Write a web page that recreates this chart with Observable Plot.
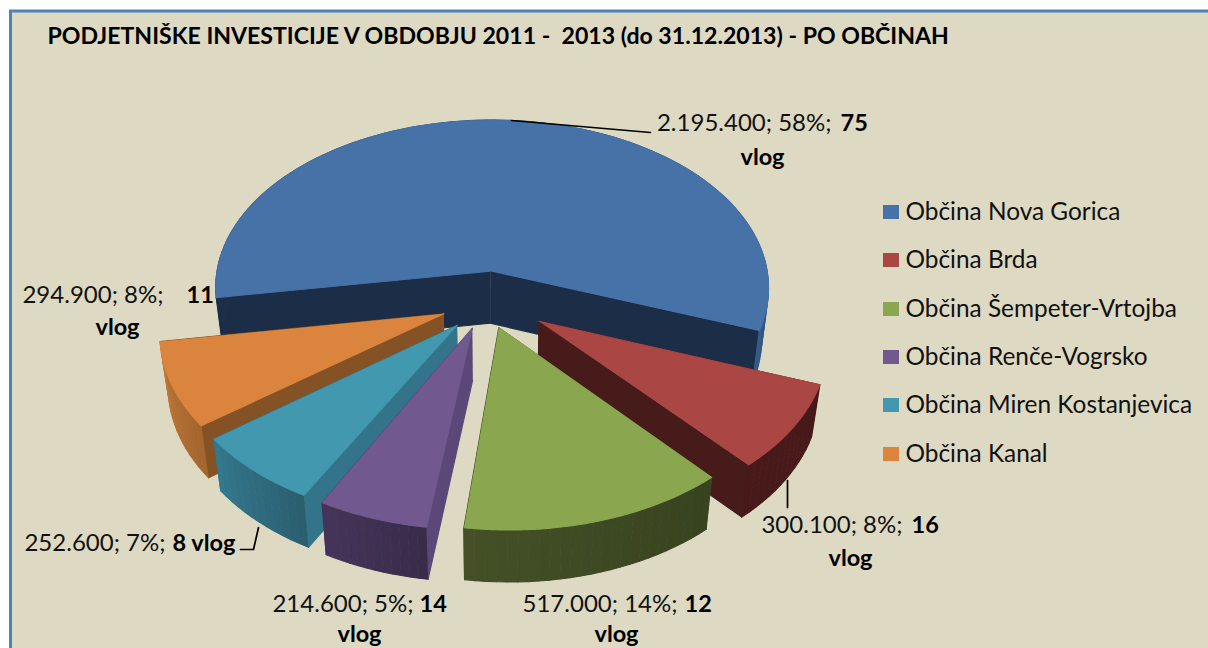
<!DOCTYPE html>
<html><head><meta charset="utf-8">
<script src="https://cdn.jsdelivr.net/npm/d3@7"></script>
<script src="https://cdn.jsdelivr.net/npm/@observablehq/plot@0.6"></script>
<style>html,body{margin:0;padding:0;background:#fff;overflow:hidden}svg{display:block}</style>
</head><body><div id="c"></div>
<script>
// DATA
const titleText = "PODJETNIŠKE INVESTICIJE V OBDOBJU 2011 -  2013 (do 31.12.2013) - PO OBČINAH";
const names = ["Občina Nova Gorica","Občina Brda","Občina Šempeter-Vrtojba","Občina Renče-Vogrsko","Občina Miren Kostanjevica","Občina Kanal"];
const amounts = [2195400,300100,517000,214600,252600,294900];
const amountLabels = ["2.195.400","300.100","517.000","214.600","252.600","294.900"];
const percents = [58,8,14,5,7,8];
const counts = [75,16,12,14,8,11];
// STYLE + LAYOUT
const W=1208,H=648, FONT="Lato, 'Open Sans', sans-serif";
const topColors=["#4672A8","#AA4644","#8AA64F","#71588F","#4198AF","#DB843D"];
const wallColors=["#1C2E47","#461B1A","#3C4A20","#5B4878","#33748A","#855225"];
const arcFrom=["#1C2E47","#471A19","#38431F","#392C4A","#2B5F70","#A4652E"];
const arcTo=["#34598A","#471A19","#445127","#46355A","#347A90","#C27A37"];
const drawOrder=[0,5,4,3,1,2];
const explode=[.18,.2,.18,.18,.18,.18];
const sliceShiftX=[-.012,.02,.01,0,0,0];
const apexShift=[[-2,0],[-4,0],[-9,-4],[-2,-3],[0,0],[0,0]];
const startDeg=-99, cx=490, cy=301, Rx=280, Ry=172, persp=.1, depth=52, shrink=.975;
const labelRows=[
 {i:0,x:831,bx:840,y:123,vx:762,vy:157},
 {i:1,x:902,bx:911,y:525,vx:850,vy:558},
 {i:2,x:677,bx:684,y:604,vx:616,vy:634},
 {i:3,x:413,bx:419,y:604,vx:359,vy:634},
 {i:4,x:165,bx:172,y:543,inline:true},
 {i:5,x:163,bx:186,y:295,vx:117,vy:327}
];
const legendY=[212,260,309,357,405,454];
const leaders=[[[511,120],[650,132]],[[787,480],[787,507]],[[258,527],[253,549],[240,549]]];

// GEOMETRY from the values
const total=d3.sum(amounts), rad=Math.PI/180;
const proj=(X,Z,down=false)=>{
  const s=1/(1-persp*Z); let x=cx+Rx*X*s, y=cy+Ry*Z*s;
  if(down){x=cx+(x-cx)*shrink; y+=depth;}
  return {x,y};
};
const polys=[]; let pid=0;
const addPoly=(pts,color)=>{const id=pid++; pts.forEach(p=>polys.push({...p,id,color}));};
let cum=startDeg; const spans=amounts.map(v=>{const a0=cum,a1=cum+v/total*360;cum=a1;return [a0,a1];});
drawOrder.forEach(i=>{
  const [a0,a1]=spans[i], mid=(a0+a1)/2*rad, e=explode[i];
  const ox=e*Math.sin(mid)+sliceShiftX[i], oz=-e*Math.cos(mid);
  const rim=a=>[ox+Math.sin(a*rad),oz-Math.cos(a*rad)];
  const apex=down=>{const p=proj(ox,oz,down);return {x:p.x+apexShift[i][0],y:p.y+apexShift[i][1]};};
  [a0,a1].forEach(a=>{
    const [X,Z]=rim(a);
    addPoly([apex(false),proj(X,Z),proj(X,Z,true),apex(true)],wallColors[i]);
  });
  const n=Math.max(12,Math.round((a1-a0)/2)), mix=d3.interpolateRgb(arcFrom[i],arcTo[i]);
  for(let k=0;k<n;k++){
    const b0=a0+(a1-a0)*k/n,b1=a0+(a1-a0)*(k+1)/n,[X0,Z0]=rim(b0),[X1,Z1]=rim(b1);
    addPoly([proj(X0,Z0),proj(X1,Z1),proj(X1,Z1,true),proj(X0,Z0,true)],d3.rgb(mix(k/n)).formatHex());
  }
  const pts=[apex(false)];
  for(let k=0;k<=120;k++){const [X,Z]=rim(a0+(a1-a0)*k/120);pts.push(proj(X,Z));}
  addPoly(pts,topColors[i]);
});

const regular=[],boldStart=[],boldMiddle=[];
labelRows.forEach(r=>{
  regular.push({x:r.x,y:r.y,t:`${amountLabels[r.i]}; ${percents[r.i]}%;`});
  boldStart.push({x:r.bx,y:r.y,t:r.inline?`${counts[r.i]} vlog`:`${counts[r.i]}`});
  if(!r.inline) boldMiddle.push({x:r.vx,y:r.vy,t:"vlog"});
});
const legend=names.map((n,i)=>({n,y:legendY[i],c:topColors[i]}));
const leaderPts=leaders.flatMap((l,id)=>l.map(([x,y])=>({x,y,id})));

const chart=Plot.plot({
  width:W,height:H,margin:0,
  style:{background:"#fff",fontFamily:FONT},
  x:{domain:[0,W],range:[0,W],axis:null},
  y:{domain:[0,H],range:[0,H],axis:null},
  color:{type:"identity"},
  marks:[
    Plot.rect([{x1:10.5,x2:1300,y1:11,y2:720}],{x1:"x1",x2:"x2",y1:"y1",y2:"y2",fill:"#DDD9C3",stroke:"#4F81BD",strokeWidth:3}),
    Plot.line(polys,{x:"x",y:"y",z:"id",fill:"color",stroke:"color",strokeWidth:1.1,curve:"linear"}),
    Plot.line(leaderPts,{x:"x",y:"y",z:"id",stroke:"#000",strokeWidth:1.7}),
    Plot.text([titleText],{x:47,y:36,text:d=>d,textAnchor:"start",fontSize:23.1,fontWeight:700,fill:"#000"}),
    Plot.text(regular,{x:"x",y:"y",text:"t",textAnchor:"end",fontSize:24,fill:"#111"}),
    Plot.text(boldStart,{x:"x",y:"y",text:"t",textAnchor:"start",fontSize:23.5,fontWeight:700,fill:"#000"}),
    Plot.text(boldMiddle,{x:"x",y:"y",text:"t",textAnchor:"middle",fontSize:23.5,fontWeight:700,fill:"#000"}),
    Plot.rect(legend,{x1:883,x2:899,y1:d=>d.y-7,y2:d=>d.y+7,fill:"c"}),
    Plot.text(legend,{x:905,y:"y",text:"n",textAnchor:"start",fontSize:24.4,fill:"#111"})
  ]
});
document.getElementById("c").append(chart);
</script></body></html>
